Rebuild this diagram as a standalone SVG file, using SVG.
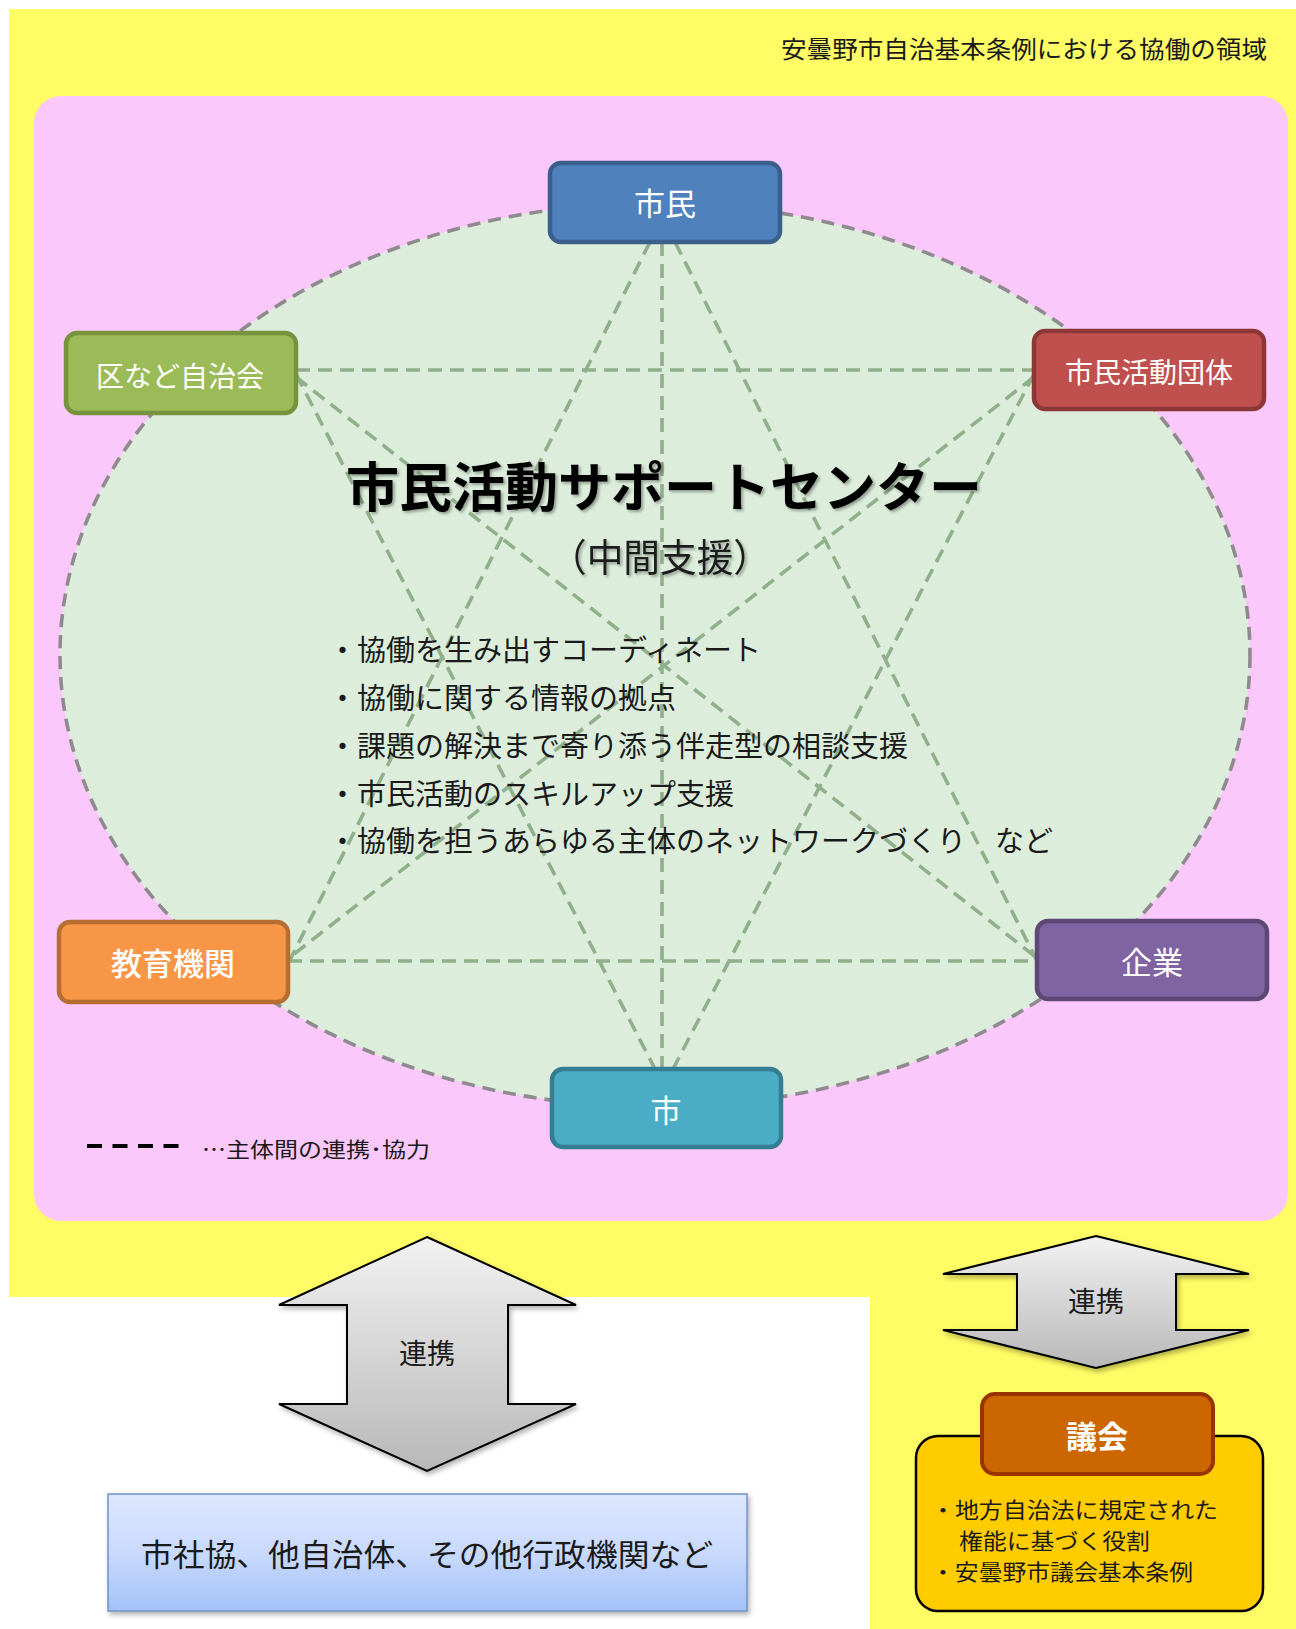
<svg xmlns="http://www.w3.org/2000/svg" width="1296" height="1629" viewBox="0 0 1296 1629">
<defs>
<style>
text{font-family:"Noto Sans CJK JP","Noto Sans",sans-serif;}
.node rect{stroke-width:4.5;}
.nl{fill:#ffffff;text-anchor:middle;}
.conn line{stroke:#90B08B;stroke-width:3.6;stroke-dasharray:14 8;fill:none;}
.body{fill:#1a1a1a;font-size:29px;}
.gk{fill:#1a1a1a;font-size:21.4px;}
.arrow{fill:url(#gArrow);stroke:#000;stroke-width:2;filter:url(#shArrow);}
</style>
<linearGradient id="gArrow" x1="0" y1="0" x2="0" y2="1">
<stop offset="0" stop-color="#F2F2F2"/>
<stop offset="1" stop-color="#B8B8B8"/>
</linearGradient>
<linearGradient id="gBlue" x1="0" y1="0" x2="0" y2="1">
<stop offset="0" stop-color="#DDE7FE"/>
<stop offset="0.5" stop-color="#C9DAFC"/>
<stop offset="1" stop-color="#A3C1F8"/>
</linearGradient>
<filter id="shArrow" x="-10%" y="-10%" width="125%" height="125%">
<feDropShadow dx="2" dy="3" stdDeviation="2.5" flood-color="#000" flood-opacity="0.3"/>
</filter>
<filter id="shText" x="-5%" y="-20%" width="110%" height="150%">
<feDropShadow dx="2" dy="2" stdDeviation="1.5" flood-color="#000" flood-opacity="0.35"/>
</filter>
</defs>

<rect x="0" y="0" width="1296" height="1629" fill="#ffffff"/>
<g id="background">
<polygon points="9,9 1296,9 1296,1629 870,1629 870,1297 9,1297" fill="#FFFC66"/>
<text x="1267" y="58" font-size="24" text-anchor="end" fill="#1a1a1a" textLength="486" lengthAdjust="spacingAndGlyphs">安曇野市自治基本条例における協働の領域</text>
<rect x="34" y="96" width="1254" height="1125" rx="27" ry="27" fill="#FBC8FC"/>
<ellipse cx="655" cy="655" rx="595" ry="452" fill="#DCEEDB" stroke="#8E8A8E" stroke-width="3.6" stroke-dasharray="13 8"/>
</g>

<g id="connectors" class="conn">
<line x1="662" y1="242" x2="662" y2="1069"/>
<line x1="296" y1="370" x2="1034" y2="370"/>
<line x1="288" y1="961" x2="1037" y2="961"/>
<line x1="650" y1="242" x2="289" y2="962"/>
<line x1="675" y1="242" x2="1037" y2="961"/>
<line x1="296" y1="374" x2="655" y2="1069"/>
<line x1="1034" y1="374" x2="673" y2="1069"/>
<line x1="296" y1="377" x2="1037" y2="958"/>
<line x1="1034" y1="377" x2="289" y2="958"/>
</g>

<g id="center-text">
<text x="664" y="507" font-size="53" font-weight="bold" text-anchor="middle" fill="#000" filter="url(#shText)" textLength="636" lengthAdjust="spacingAndGlyphs">市民活動サポートセンター</text>
<text x="660" y="571" font-size="38" text-anchor="middle" fill="#1a1a1a" filter="url(#shText)" textLength="220" lengthAdjust="spacingAndGlyphs">（中間支援）</text>
<text class="body" x="328" y="661">・協働を生み出すコーディネート</text>
<text class="body" x="328" y="709">・協働に関する情報の拠点</text>
<text class="body" x="328" y="757">・課題の解決まで寄り添う伴走型の相談支援</text>
<text class="body" x="328" y="805">・市民活動のスキルアップ支援</text>
<text class="body" x="328" y="852">・協働を担うあらゆる主体のネットワークづくり　など</text>
</g>

<g id="node-shimin" class="node">
<rect x="550" y="163" width="230" height="79" rx="11" fill="#4F81BD" stroke="#3A5F8B"/>
<text class="nl" x="665" y="215" font-size="31">市民</text>
</g>
<g id="node-ku" class="node">
<rect x="66" y="333" width="230" height="80" rx="11" fill="#9BBB59" stroke="#76923C"/>
<text class="nl" x="180" y="387" font-size="28">区など自治会</text>
</g>
<g id="node-dantai" class="node">
<rect x="1034" y="331" width="230" height="78" rx="11" fill="#C0504D" stroke="#8C3836"/>
<text class="nl" x="1149" y="383" font-size="28">市民活動団体</text>
</g>
<g id="node-kyoiku" class="node">
<rect x="59" y="922" width="229" height="80" rx="11" fill="#F79646" stroke="#B66D31"/>
<text class="nl" x="173" y="975" font-size="31" font-weight="500">教育機関</text>
</g>
<g id="node-kigyo" class="node">
<rect x="1037" y="921" width="230" height="78" rx="11" fill="#8064A2" stroke="#5C4776"/>
<text class="nl" x="1152" y="974" font-size="31">企業</text>
</g>
<g id="node-shi" class="node">
<rect x="552" y="1069" width="229" height="78" rx="11" fill="#4BACC6" stroke="#357D91"/>
<text class="nl" x="666" y="1122" font-size="31">市</text>
</g>

<g id="legend">
<line x1="87" y1="1146" x2="185" y2="1146" stroke="#000" stroke-width="4" stroke-dasharray="15 10.5"/>
<text x="202" y="1157" font-size="21" fill="#1a1a1a" textLength="228" lengthAdjust="spacingAndGlyphs">…主体間の連携･協力</text>
</g>

<g id="arrow-left">
<polygon class="arrow" points="427,1237 576,1305 508,1305 508,1404 576,1404 427,1471 279,1404 347,1404 347,1305 279,1305"/>
<text x="427" y="1364" font-size="28" text-anchor="middle" fill="#1a1a1a">連携</text>
</g>

<g id="node-gyosei">
<rect x="108" y="1494" width="639" height="117" fill="url(#gBlue)" stroke="#6F93C9" stroke-width="1.5" filter="url(#shArrow)"/>
<text x="427" y="1566" font-size="31" text-anchor="middle" fill="#1a1a1a" textLength="572" lengthAdjust="spacingAndGlyphs">市社協、他自治体、その他行政機関など</text>
</g>

<g id="arrow-right">
<polygon class="arrow" points="1096,1236 1249,1274 1176,1274 1176,1330 1249,1330 1096,1368 943,1330 1017,1330 1017,1274 943,1274"/>
<text x="1096" y="1312" font-size="28" text-anchor="middle" fill="#1a1a1a">連携</text>
</g>

<g id="node-gikai">
<rect x="916" y="1436" width="347" height="175" rx="22" fill="#FFCC00" stroke="#000" stroke-width="2.5"/>
<rect x="982" y="1394" width="231" height="80" rx="13" fill="#CC6600" stroke="#993300" stroke-width="4"/>
<text x="1097" y="1448" font-size="31" font-weight="bold" text-anchor="middle" fill="#ffffff">議会</text>
<text class="gk" x="931" y="1518" textLength="287" lengthAdjust="spacingAndGlyphs">・地方自治法に規定された</text>
<text class="gk" x="959" y="1549" textLength="191" lengthAdjust="spacingAndGlyphs">権能に基づく役割</text>
<text class="gk" x="931" y="1580" textLength="262" lengthAdjust="spacingAndGlyphs">・安曇野市議会基本条例</text>
</g>
</svg>
